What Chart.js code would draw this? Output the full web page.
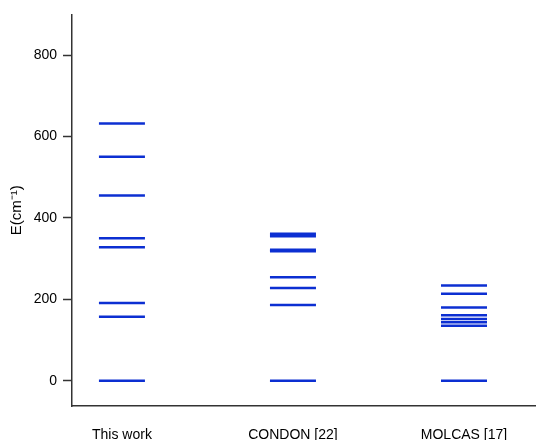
<!DOCTYPE html>
<html>
<head>
<meta charset="utf-8">
<script src="https://cdn.jsdelivr.net/npm/chart.js@4/dist/chart.umd.min.js"></script>
<style>
  body { margin: 0; background: #fff; }
</style>
</head>
<body>
<canvas id="levels" width="536" height="440"></canvas>
<script>
// energy levels (cm^-1)
const categories = ['This work', 'CONDON [22]', 'MOLCAS [17]'];
const thisWork = [0, 157, 191, 328, 350, 455, 550, 632];
const condon = [0, 186, 228, 254, 318, 322, 355, 361];
const molcas = [0, 135, 144, 152, 161, 180, 214, 234];
const yTicks = [0, 200, 400, 600, 800];

const lineColor = '#0c2fd2';
const font = 'Liberation Sans, Arial, sans-serif';

function levelSet(values, idx) {
    return {
        data: values.map(v => ({ x: idx, y: v })),
        pointStyle: 'line',
        pointRadius: 23,
        pointBorderWidth: 2.5,
        pointBorderColor: lineColor,
        pointBackgroundColor: lineColor,
        showLine: false
    };
}

const ctx = document.getElementById('levels').getContext('2d');
new Chart(ctx, {
    type: 'scatter',
    data: {
        datasets: [
            levelSet(thisWork, 0),
            levelSet(condon, 1),
            levelSet(molcas, 2)
        ]
    },
    options: {
        responsive: false,
        animation: false,
        events: [],
        layout: { autoPadding: false, padding: { top: 13, right: 0, left: 0, bottom: 0 } },
        plugins: {
            legend: { display: false },
            tooltip: { enabled: false }
        },
        scales: {
            x: {
                type: 'linear',
                min: -0.292,
                max: 2.421,
                afterBuildTicks: s => { s.ticks = categories.map((c, i) => ({ value: i })); },
                afterFit: s => { s.height = 34; },
                grid: { display: false },
                border: { display: true, color: '#333', width: 1.5 },
                ticks: {
                    callback: v => categories[v],
                    color: '#000',
                    padding: 13,
                    maxRotation: 0,
                    font: { family: font, size: 14 }
                }
            },
            y: {
                min: -62,
                max: 900,
                afterBuildTicks: s => { s.ticks = yTicks.map(v => ({ value: v })); },
                afterFit: s => { s.width = 72; },
                grid: {
                    display: true,
                    drawOnChartArea: false,
                    drawTicks: true,
                    tickLength: 9,
                    tickWidth: 1.5,
                    tickColor: '#333'
                },
                border: { display: true, color: '#333', width: 1.5 },
                title: {
                    display: true,
                    text: 'E(cm\u207B\u00B9)',
                    color: '#000',
                    padding: { top: 8, bottom: 0 },
                    font: { family: font, size: 15 }
                },
                ticks: {
                    color: '#000',
                    padding: 6,
                    font: { family: font, size: 14 }
                }
            }
        }
    }
});
</script>
</body>
</html>
